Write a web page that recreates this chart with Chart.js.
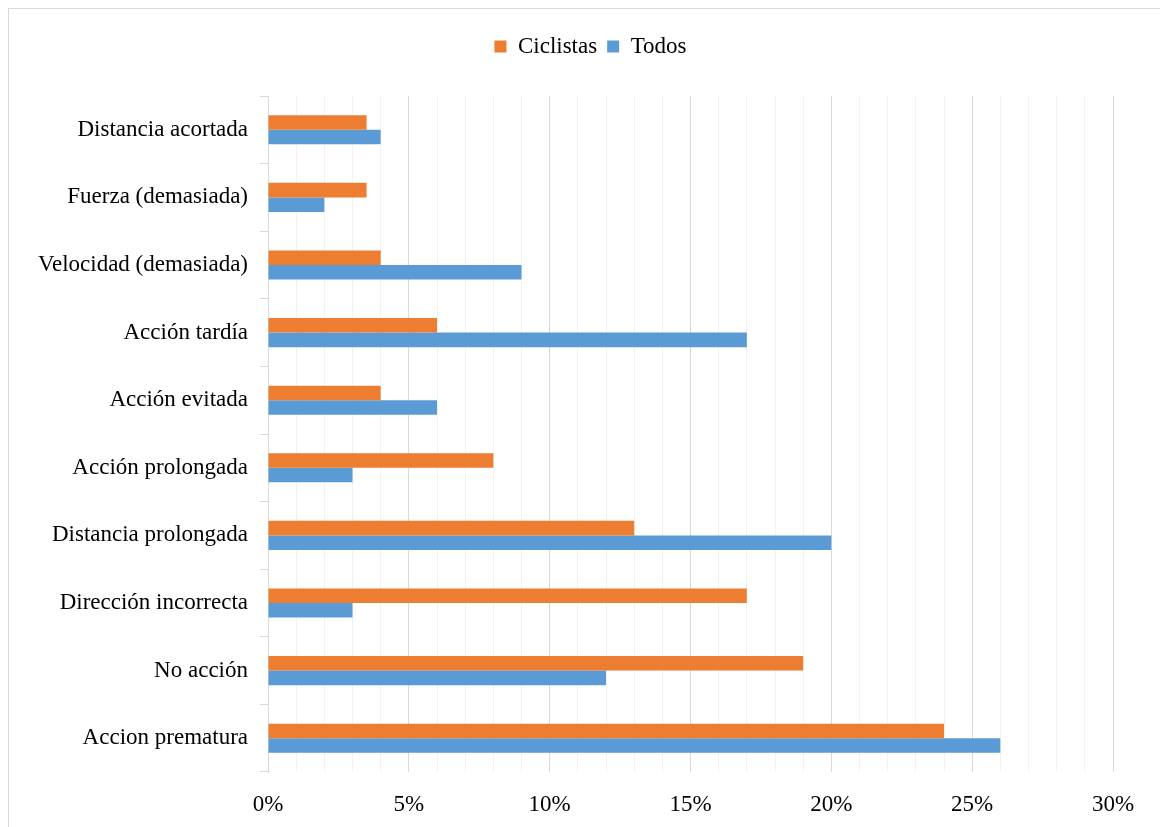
<!DOCTYPE html>
<html>
<head>
<meta charset="utf-8">
<script src="https://cdn.jsdelivr.net/npm/chart.js@4.4.1/dist/chart.umd.min.js"></script>
<style>
  html, body { margin: 0; padding: 0; background: #fff; }
  #marco {
    position: absolute; left: 8px; top: 8px; width: 1200px; height: 900px;
    border-left: 1px solid #d9d9d9; border-top: 1px solid #d9d9d9;
  }
  #caja { position: absolute; left: 0; top: 0; width: 1160px; height: 827px; }
</style>
</head>
<body>
<div id="marco"></div>
<div id="caja"><canvas id="grafico"></canvas></div>
<script>
// categorias (de arriba hacia abajo) y porcentajes de cada serie
const categorias = [
    'Distancia acortada',
    'Fuerza (demasiada)',
    'Velocidad (demasiada)',
    'Acción tardía',
    'Acción evitada',
    'Acción prolongada',
    'Distancia prolongada',
    'Dirección incorrecta',
    'No acción',
    'Accion prematura'
];
const ciclistas = [3.5, 3.5, 4, 6, 4, 8, 13, 17, 19, 24];
const todos = [4, 2, 9, 17, 6, 3, 20, 3, 12, 26];
const nombresSeries = ['Ciclistas', 'Todos'];

const fuente = { family: '"Liberation Serif", "Times New Roman", serif', size: 23 };

// alto fijo para la leyenda y leyenda un poco corrida a la derecha
const ajusteLeyenda = {
    id: 'ajusteLeyenda',
    beforeInit(chart) {
        const fitOriginal = chart.legend.fit;
        chart.legend.fit = function () {
            fitOriginal.bind(chart.legend)();
            this.height = 71;
        };
    },
    afterLayout(chart) {
        chart.legend.left += 34;
        chart.legend.right += 34;
    }
};

var ctx = document.getElementById('grafico').getContext('2d');
var miGrafico = new Chart(ctx, {
    type: 'bar',
    data: {
        labels: categorias,
        datasets: [{
            label: nombresSeries[0],
            data: ciclistas,
            backgroundColor: '#ED7D31',
            categoryPercentage: 0.43,
            barPercentage: 1
        }, {
            label: nombresSeries[1],
            data: todos,
            backgroundColor: '#5B9BD5',
            categoryPercentage: 0.43,
            barPercentage: 1
        }]
    },
    options: {
        indexAxis: 'y',
        responsive: true,
        maintainAspectRatio: false,
        animation: false,
        layout: { padding: { top: 25, right: 47, bottom: 0, left: 0 } },
        plugins: {
            legend: {
                position: 'top',
                labels: {
                    font: fuente,
                    color: '#000',
                    boxWidth: 12,
                    boxHeight: 12,
                    padding: 10
                }
            },
            tooltip: { enabled: false }
        },
        scales: {
            x: {
                min: 0,
                max: 30,
                afterFit: (scale) => { scale.height = 55; },
                grid: {
                    drawTicks: false,
                    color: (c) => (c.tick && c.tick.value % 5 === 0) ? '#d9d9d9' : '#f2f2f2',
                    lineWidth: 1
                },
                border: { display: false },
                ticks: {
                    stepSize: 1,
                    autoSkip: false,
                    maxRotation: 0,
                    padding: 19,
                    color: '#000',
                    font: fuente,
                    callback: (v) => v % 5 === 0 ? v + '%' : ''
                }
            },
            y: {
                afterFit: (scale) => { scale.width = 268; },
                grid: {
                    offset: true,
                    drawOnChartArea: false,
                    tickLength: 8,
                    color: '#d9d9d9'
                },
                border: { display: true, color: '#d9d9d9' },
                ticks: {
                    color: '#000',
                    font: fuente,
                    padding: 12
                }
            }
        }
    },
    plugins: [ajusteLeyenda]
});
</script>
</body>
</html>
